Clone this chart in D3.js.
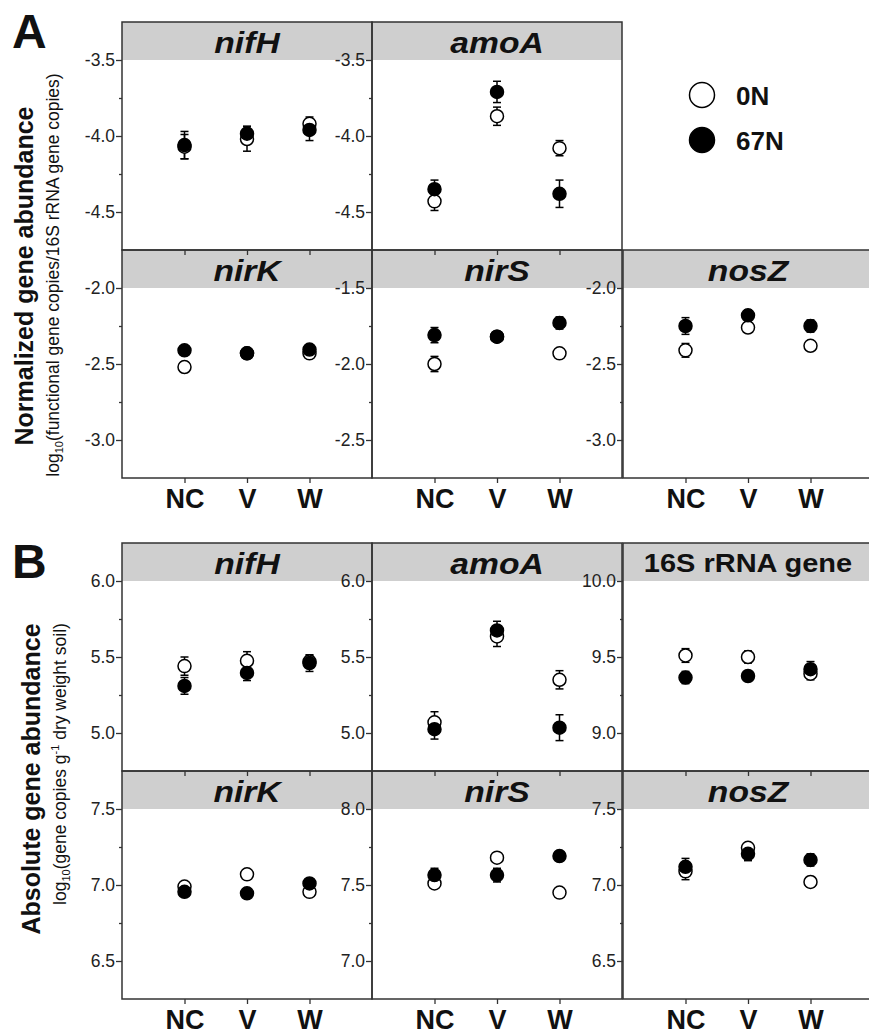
<!DOCTYPE html>
<html lang="en">
<head>
<meta charset="utf-8">
<title>Gene abundance</title>
<script src="https://cdn.jsdelivr.net/npm/d3@7"></script>
<style>
  body { margin: 0; background: #fff; }
  svg text { font-family: "Liberation Sans", Arial, Helvetica, sans-serif; fill: #111; }
  .yaxis text { font-size: 17.5px; fill: #222; }
  .yaxis line, .xaxis line { stroke: #333; stroke-width: 1.3; }
  .xaxis text { font-size: 27px; font-weight: bold; fill: #111; }
  .strip-label { font-weight: bold; }
  .frame { fill: none; stroke: #333; stroke-width: 1.5; }
  .ylab { font-size: 25px; font-weight: bold; }
  .ysub { font-size: 17.5px; }
  .letter { font-size: 48px; font-weight: bold; }
  .legend text { font-size: 26px; font-weight: bold; }
</style>
</head>
<body>
<div id="chart"></div>
<script>
var sites = ["NC", "V", "W"];
var treatments = ["0N", "67N"];

// A: normalized abundance, [mean, se] for NC, V, W
var normNifH0N  = [[-4.07, 0.08], [-4.02, 0.08], [-3.92, 0.045]];
var normNifH67N = [[-4.06, 0.09], [-3.985, 0.05], [-3.96, 0.07]];
var normAmoA0N  = [[-4.43, 0.06], [-3.87, 0.06], [-4.08, 0.05]];
var normAmoA67N = [[-4.35, 0.06], [-3.71, 0.07], [-4.38, 0.09]];
var normNirK0N  = [[-2.52, 0.035], [-2.43, 0.03], [-2.43, 0.03]];
var normNirK67N = [[-2.41, 0.02], [-2.43, 0.03], [-2.405, 0.03]];
var normNirS0N  = [[-2.0, 0.05], [-1.82, 0.03], [-1.93, 0.03]];
var normNirS67N = [[-1.81, 0.05], [-1.82, 0.03], [-1.73, 0.04]];
var normNosZ0N  = [[-2.41, 0.045], [-2.26, 0.03], [-2.38, 0.03]];
var normNosZ67N = [[-2.25, 0.055], [-2.18, 0.035], [-2.25, 0.04]];

// B: absolute abundance, [mean, se] for NC, V, W
var absNifH0N  = [[5.44, 0.06], [5.475, 0.06], [5.47, 0.04]];
var absNifH67N = [[5.31, 0.055], [5.395, 0.05], [5.46, 0.055]];
var absAmoA0N  = [[5.07, 0.07], [5.635, 0.066], [5.35, 0.06]];
var absAmoA67N = [[5.025, 0.065], [5.675, 0.06], [5.035, 0.085]];
var abs16S0N   = [[9.51, 0.045], [9.5, 0.04], [9.39, 0.04]];
var abs16S67N  = [[9.365, 0.04], [9.375, 0.035], [9.42, 0.05]];
var absNirK0N  = [[6.99, 0.02], [7.07, 0.015], [6.955, 0.015]];
var absNirK67N = [[6.955, 0.02], [6.945, 0.015], [7.01, 0.015]];
var absNirS0N  = [[7.51, 0.03], [7.68, 0.02], [7.45, 0.015]];
var absNirS67N = [[7.565, 0.045], [7.565, 0.045], [7.69, 0.03]];
var absNosZ0N  = [[7.09, 0.055], [7.245, 0.02], [7.02, 0.035]];
var absNosZ67N = [[7.12, 0.055], [7.205, 0.045], [7.165, 0.04]];

// y tick values
var ticksNormNifH = [-4.5, -4.0, -3.5];
var ticksNormAmoA = [-4.5, -4.0, -3.5];
var ticksNormNirK = [-3.0, -2.5, -2.0];
var ticksNormNirS = [-2.5, -2.0, -1.5];
var ticksNormNosZ = [-3.0, -2.5, -2.0];
var ticksAbsNifH = [5.0, 5.5, 6.0];
var ticksAbsAmoA = [5.0, 5.5, 6.0];
var ticksAbs16S = [9.0, 9.5, 10.0];
var ticksAbsNirK = [6.5, 7.0, 7.5];
var ticksAbsNirS = [7.0, 7.5, 8.0];
var ticksAbsNosZ = [6.5, 7.0, 7.5];

var panels = [
  {block: "A", row: 0, col: 0, label: "nifH", italic: true, ticks: ticksNormNifH, s0: normNifH0N, s1: normNifH67N},
  {block: "A", row: 0, col: 1, label: "amoA", italic: true, ticks: ticksNormAmoA, s0: normAmoA0N, s1: normAmoA67N},
  {block: "A", row: 1, col: 0, label: "nirK", italic: true, ticks: ticksNormNirK, s0: normNirK0N, s1: normNirK67N},
  {block: "A", row: 1, col: 1, label: "nirS", italic: true, ticks: ticksNormNirS, s0: normNirS0N, s1: normNirS67N},
  {block: "A", row: 1, col: 2, label: "nosZ", italic: true, ticks: ticksNormNosZ, s0: normNosZ0N, s1: normNosZ67N},
  {block: "B", row: 0, col: 0, label: "nifH", italic: true, ticks: ticksAbsNifH, s0: absNifH0N, s1: absNifH67N},
  {block: "B", row: 0, col: 1, label: "amoA", italic: true, ticks: ticksAbsAmoA, s0: absAmoA0N, s1: absAmoA67N},
  {block: "B", row: 0, col: 2, label: "16S rRNA gene", italic: false, ticks: ticksAbs16S, s0: abs16S0N, s1: abs16S67N},
  {block: "B", row: 1, col: 0, label: "nirK", italic: true, ticks: ticksAbsNirK, s0: absNirK0N, s1: absNirK67N},
  {block: "B", row: 1, col: 1, label: "nirS", italic: true, ticks: ticksAbsNirS, s0: absNirS0N, s1: absNirS67N},
  {block: "B", row: 1, col: 2, label: "nosZ", italic: true, ticks: ticksAbsNosZ, s0: absNosZ0N, s1: absNosZ67N}
];

var w = 869, h = 1034;
var colX = [122, 372, 623];
var colW = 250;
var rowH = 228;
var blockTop = {A: 22, B: 543};
var r = 6.5;

var svg = d3.select("#chart").append("svg")
  .attr("width", w)
  .attr("height", h);

var bgLayer = svg.append("g");
var frameLayer = svg.append("g");
var markLayer = svg.append("g");

var x = d3.scalePoint().domain(sites).range([0, colW]).padding(1);

panels.forEach(function(p) {
  var x0 = colX[p.col];
  var y0 = blockTop[p.block] + p.row * rowH;
  var ext = d3.extent(p.ticks);
  var y = d3.scaleLinear().domain([ext[0] - 0.25, ext[1] + 0.25]).range([rowH, 0]);

  // strip
  var bg = bgLayer.append("g").attr("transform", "translate(" + x0 + "," + y0 + ")");
  bg.append("rect")
    .attr("x", 0).attr("y", 0)
    .attr("width", colW).attr("height", y(ext[1]))
    .attr("fill", "#cfcfcf");
  bg.append("text")
    .attr("class", "strip-label")
    .attr("text-anchor", "middle")
    .attr("transform", "translate(" + (colW / 2) + "," + (p.italic ? 31 : 29) + ") scale(1.16,1)")
    .style("font-style", p.italic ? "italic" : "normal")
    .style("font-size", p.italic ? "29px" : "25px")
    .text(p.label);

  var g = frameLayer.append("g").attr("transform", "translate(" + x0 + "," + y0 + ")");
  g.append("rect").attr("class", "frame")
    .attr("width", colW).attr("height", rowH);

  // y axis, major + minor ticks
  var yAxis = g.append("g").attr("class", "yaxis")
    .call(d3.axisLeft(y).tickValues(p.ticks).tickSize(6).tickPadding(1)
      .tickFormat(function(d) { return d.toFixed(1); }));
  yAxis.select(".domain").remove();
  var minor = d3.pairs(p.ticks).map(function(t) { return (t[0] + t[1]) / 2; });
  var yMinor = g.append("g").attr("class", "yaxis")
    .call(d3.axisLeft(y).tickValues(minor).tickSize(3).tickFormat(""));
  yMinor.select(".domain").remove();

  // x axis
  var xAxis = g.append("g").attr("class", "xaxis")
    .attr("transform", "translate(0," + rowH + ")")
    .call(d3.axisBottom(x).tickSize(5).tickPadding(6)
      .tickFormat(p.row === 1 ? null : ""));
  xAxis.select(".domain").remove();

  // points
  var m = markLayer.append("g").attr("transform", "translate(" + x0 + "," + y0 + ")");
  [p.s0, p.s1].forEach(function(series, k) {
    var pts = series.map(function(d, i) { return {site: sites[i], mean: d[0], se: d[1], t: treatments[k]}; });
    var eb = m.append("g").selectAll("g").data(pts).enter().append("g")
      .attr("stroke", "#000").attr("stroke-width", 1.5);
    eb.append("line")
      .attr("x1", function(d) { return x(d.site); })
      .attr("x2", function(d) { return x(d.site); })
      .attr("y1", function(d) { return y(d.mean - d.se); })
      .attr("y2", function(d) { return y(d.mean + d.se); });
    [-1, 1].forEach(function(s) {
      eb.append("line")
        .attr("x1", function(d) { return x(d.site) - 4; })
        .attr("x2", function(d) { return x(d.site) + 4; })
        .attr("y1", function(d) { return y(d.mean + s * d.se); })
        .attr("y2", function(d) { return y(d.mean + s * d.se); });
    });
  });
  [p.s0, p.s1].forEach(function(series, k) {
    m.append("g").selectAll("circle").data(series).enter().append("circle")
      .attr("cx", function(d, i) { return x(sites[i]); })
      .attr("cy", function(d) { return y(d[0]); })
      .attr("r", r)
      .attr("fill", k === 0 ? "#fff" : "#000")
      .attr("stroke", "#000")
      .attr("stroke-width", 1.5);
  });
});

// panel letters
svg.append("text").attr("class", "letter").attr("x", 12).attr("y", 48).text("A");
svg.append("text").attr("class", "letter").attr("x", 12).attr("y", 578).text("B");

// y axis titles
svg.append("text").attr("class", "ylab")
  .attr("text-anchor", "middle")
  .attr("transform", "translate(33,276) rotate(-90)")
  .text("Normalized gene abundance");
var subA = svg.append("text").attr("class", "ysub")
  .attr("text-anchor", "middle")
  .attr("transform", "translate(59,275) rotate(-90)");
subA.append("tspan").text("log");
subA.append("tspan").attr("dy", 4).style("font-size", "11px").text("10");
subA.append("tspan").attr("dy", -4).text("(functional gene copies/16S rRNA gene copies)");

svg.append("text").attr("class", "ylab")
  .attr("text-anchor", "middle")
  .attr("transform", "translate(40,779) rotate(-90)")
  .text("Absolute gene abundance");
var subB = svg.append("text").attr("class", "ysub")
  .attr("text-anchor", "middle")
  .attr("transform", "translate(66,764) rotate(-90)");
subB.append("tspan").text("log");
subB.append("tspan").attr("dy", 4).style("font-size", "11px").text("10");
subB.append("tspan").attr("dy", -4).text("(gene copies g");
subB.append("tspan").attr("dy", -7).style("font-size", "11px").text("-1");
subB.append("tspan").attr("dy", 7).text(" dry weight soil)");

// legend
var legend = svg.append("g").attr("class", "legend").attr("transform", "translate(702,95)");
var lg = legend.selectAll("g").data(treatments).enter().append("g")
  .attr("transform", function(d, i) { return "translate(0," + (i * 45) + ")"; });
lg.append("circle")
  .attr("r", 12.5)
  .attr("fill", function(d, i) { return i === 0 ? "#fff" : "#000"; })
  .attr("stroke", "#000")
  .attr("stroke-width", 1.5);
lg.append("text").attr("x", 34).attr("y", 9.5).text(function(d) { return d; });
</script>
</body>
</html>
